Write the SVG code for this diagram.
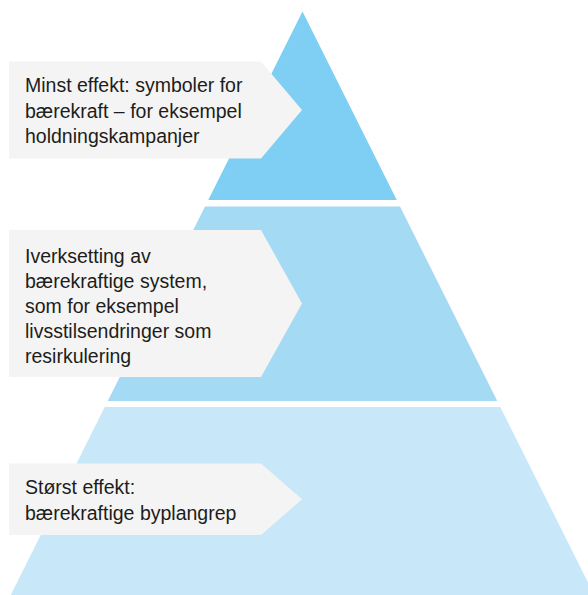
<svg xmlns="http://www.w3.org/2000/svg" width="588" height="595" viewBox="0 0 588 595">
<style>
.lbl{fill:#f4f4f4}
.t{font-family:"Liberation Sans",Arial,sans-serif;font-size:19.5px;fill:#1d1d1b}
</style>
<rect width="588" height="595" fill="#ffffff"/>
<g id="pyramid">
<polygon id="band-top" points="302.5,11.5 396.75,200 208.25,200" fill="#7fcef3"/>
<polygon id="band-middle" points="205,206.5 400,206.5 497.25,401 107.75,401" fill="#a5daf5"/>
<polygon id="band-bottom" points="104.75,407 500.25,407 594.25,595 10.75,595" fill="#c8e8f9"/>
</g>
<g id="connectors"></g>
<g id="label-top">
<path class="lbl" d="M9,61.5 H261 L302,110 L261,158.5 H9 Z"/>
<text class="t" x="25" y="92">Minst effekt: symboler for</text>
<text class="t" x="25" y="117.5">bærekraft – for eksempel</text>
<text class="t" x="25" y="143">holdningskampanjer</text>
</g>
<g id="label-middle">
<path class="lbl" d="M9,230 H261 L302,303.5 L261,377 H9 Z"/>
<text class="t" x="25" y="263">Iverksetting av</text>
<text class="t" x="25" y="288">bærekraftige system,</text>
<text class="t" x="25" y="313">som for eksempel</text>
<text class="t" x="25" y="338">livsstilsendringer som</text>
<text class="t" x="25" y="363">resirkulering</text>
</g>
<g id="label-bottom">
<path class="lbl" d="M9,463.5 H261 L302,499.25 L261,535 H9 Z"/>
<text class="t" x="25" y="493.5">Størst effekt:</text>
<text class="t" x="25" y="519.5">bærekraftige byplangrep</text>
</g>
</svg>
